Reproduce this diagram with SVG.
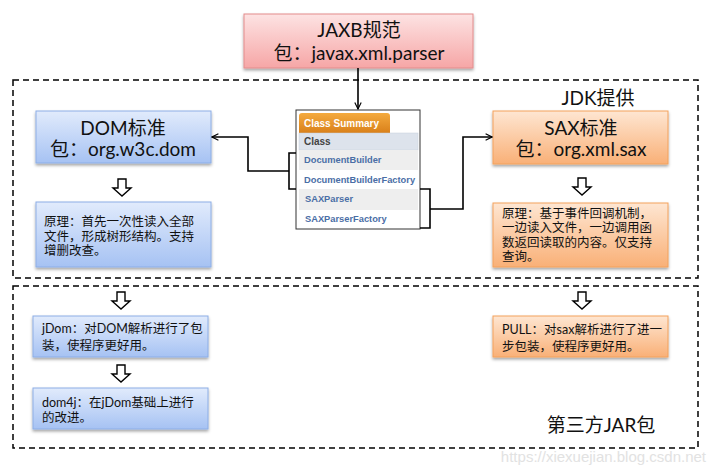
<svg xmlns="http://www.w3.org/2000/svg" width="708" height="470" viewBox="0 0 708 470">
<defs>
<linearGradient id="gBlue" x1="0" y1="0" x2="0" y2="1"><stop offset="0" stop-color="#e1ebfc"/><stop offset="1" stop-color="#a6c2f3"/></linearGradient>
<linearGradient id="gOrange" x1="0" y1="0" x2="0" y2="1"><stop offset="0" stop-color="#fee6d2"/><stop offset="1" stop-color="#f9b077"/></linearGradient>
<linearGradient id="gPink" x1="0" y1="0" x2="0" y2="1"><stop offset="0" stop-color="#fde3e3"/><stop offset="1" stop-color="#f6a6a6"/></linearGradient>
<linearGradient id="gTab" x1="0" y1="0" x2="0" y2="1"><stop offset="0" stop-color="#f4aa3e"/><stop offset="1" stop-color="#d9801a"/></linearGradient>
<filter id="sh" x="-10%" y="-10%" width="120%" height="130%"><feDropShadow dx="0" dy="2" stdDeviation="1.5" flood-color="#000" flood-opacity="0.35"/></filter>
<marker id="ah" viewBox="0 0 10 10" refX="9" refY="5" markerWidth="8" markerHeight="8" markerUnits="userSpaceOnUse" orient="auto"><path d="M1,1 L9,5 L1,9" fill="none" stroke="#000" stroke-width="1.4"/></marker>
<path id="hollow" d="M-4,0 H4 V9 H9 L0,17 L-9,9 H-4 Z"/>
</defs>
<style>
.blue{fill:url(#gBlue);stroke:#8daee6;stroke-width:1}
.orange{fill:url(#gOrange);stroke:#f3a25c;stroke-width:1}
.pink{fill:url(#gPink);stroke:#e38c8c;stroke-width:1}
.t19{font-family:Lato,"Noto Sans CJK SC",sans-serif;font-size:19px;fill:#111}
.t13{font-family:Lato,"Noto Sans CJK SC",sans-serif;font-size:12.5px;fill:#111}
.tbl{font-family:"Liberation Sans",Arial,sans-serif;font-size:9.3px;font-weight:bold}
.hdr{font-family:"Liberation Sans",Arial,sans-serif;font-size:10px;font-weight:bold}
.dash{fill:none;stroke:#000;stroke-width:1.5;stroke-dasharray:6,4}
.conn{fill:none;stroke:#000;stroke-width:1.6}
.ha{fill:#fff;stroke:#000;stroke-width:1.4}
</style>
<rect width="708" height="470" fill="#fff"/>
<g id="regions">
<rect class="dash" x="13" y="80" width="685" height="198"/>
<rect class="dash" x="13" y="286" width="685" height="162"/>
<text class="t19" x="598" y="105" text-anchor="middle">JDK提供</text>
<text class="t19" x="601" y="432" text-anchor="middle">第三方JAR包</text>
</g>
<g id="jaxb">
<rect class="pink" x="244" y="14" width="229" height="54" filter="url(#sh)"/>
<text class="t19" x="359" y="37" text-anchor="middle">JAXB规范</text>
<text class="t19" x="359" y="60" text-anchor="middle">包：javax.xml.parser</text>
</g>
<g id="classSummary">
<rect x="296" y="110" width="124" height="119" fill="#fff" stroke="#333" stroke-width="1"/>
<path d="M299,133 V116 Q299,113 302,113 H387 Q390,113 390,116 V133 Z" fill="url(#gTab)"/>
<text class="hdr" x="304" y="127" fill="#fff">Class Summary</text>
<rect x="299" y="133" width="119" height="17" fill="#dde3ec" stroke="#c8d0dc" stroke-width="0.5"/>
<text class="hdr" x="304" y="145" fill="#444">Class</text>
<rect x="299" y="150" width="119" height="20" fill="#eeeeee"/>
<rect x="299" y="170" width="119" height="19" fill="#ffffff"/>
<rect x="299" y="189" width="119" height="21" fill="#eeeeee"/>
<rect x="299" y="210" width="119" height="18" fill="#ffffff"/>
<text class="tbl" x="304" y="163" fill="#4a6ea6">DocumentBuilder</text>
<text class="tbl" x="304" y="183" fill="#4a6ea6">DocumentBuilderFactory</text>
<text class="tbl" x="305" y="202" fill="#4a6ea6">SAXParser</text>
<text class="tbl" x="305" y="222" fill="#4a6ea6">SAXParserFactory</text>
</g>
<g id="dom">
<rect class="blue" x="36" y="111" width="175" height="52" filter="url(#sh)"/>
<text class="t19" x="123" y="135" text-anchor="middle">DOM标准</text>
<text class="t19" x="123" y="156" text-anchor="middle">包：org.w3c.dom</text>
</g>
<g id="domDesc">
<rect class="blue" x="36" y="202" width="175" height="65" filter="url(#sh)"/>
<text class="t13" x="44" y="226">原理：首先一次性读入全部</text>
<text class="t13" x="44" y="241">文件，形成树形结构。支持</text>
<text class="t13" x="44" y="255">增删改查。</text>
</g>
<g id="sax">
<rect class="orange" x="493" y="111" width="175" height="53" filter="url(#sh)"/>
<text class="t19" x="581" y="135" text-anchor="middle">SAX标准</text>
<text class="t19" x="581" y="156" text-anchor="middle">包：org.xml.sax</text>
</g>
<g id="saxDesc">
<rect class="orange" x="493" y="203" width="175" height="64" filter="url(#sh)"/>
<text class="t13" x="502" y="218">原理：基于事件回调机制，</text>
<text class="t13" x="502" y="232">一边读入文件，一边调用函</text>
<text class="t13" x="502" y="247">数返回读取的内容。仅支持</text>
<text class="t13" x="502" y="261">查询。</text>
</g>
<g id="jdom">
<rect class="blue" x="33" y="316" width="175" height="41" filter="url(#sh)"/>
<text class="t13" x="42" y="333">jDom：对DOM解析进行了包</text>
<text class="t13" x="42" y="350">装，使程序更好用。</text>
</g>
<g id="dom4j">
<rect class="blue" x="33" y="388" width="175" height="41" filter="url(#sh)"/>
<text class="t13" x="42" y="407">dom4j：在jDom基础上进行</text>
<text class="t13" x="42" y="422">的改进。</text>
</g>
<g id="pull">
<rect class="orange" x="493" y="316" width="175" height="41" filter="url(#sh)"/>
<text class="t13" x="502" y="334">PULL：对sax解析进行了进一</text>
<text class="t13" x="502" y="351">步包装，使程序更好用。</text>
</g>
<g id="connectors">
<line class="conn" x1="358" y1="68" x2="358" y2="109" marker-end="url(#ah)"/>
<path class="conn" d="M296,153 H289 V189 H296"/>
<path class="conn" d="M289,171 H248 V137 H212" marker-end="url(#ah)"/>
<path class="conn" d="M420,189 H430 V228 H420"/>
<path class="conn" d="M430,209 H463 V137 H492" marker-end="url(#ah)"/>
<use href="#hollow" class="ha" transform="translate(122,179)"/>
<use href="#hollow" class="ha" transform="translate(582,178)"/>
<use href="#hollow" class="ha" transform="translate(121,292)"/>
<use href="#hollow" class="ha" transform="translate(121,365)"/>
<use href="#hollow" class="ha" transform="translate(582,292)"/>
</g>
<text x="706" y="462" text-anchor="end" font-family="'Liberation Sans',Arial,sans-serif" font-size="15" fill="#e2e2e2">https://xiexuejian.blog.csdn.net</text>
</svg>
